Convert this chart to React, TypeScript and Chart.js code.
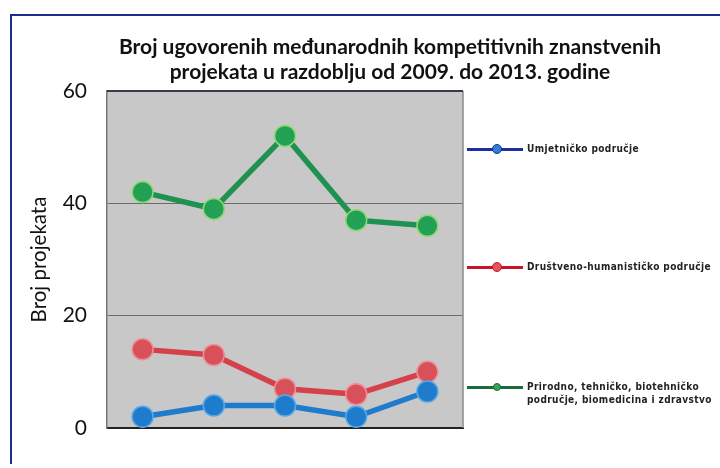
import React, { useEffect, useRef } from 'react';
import { Chart, registerables } from 'chart.js';

Chart.register(...registerables);

const years = ['2009', '2010', '2011', '2012', '2013'];
const umjetnicko = [2, 4, 4, 2, 6.5];
const drustveno = [14, 13, 7, 6, 10];
const prirodno = [42, 39, 52, 37, 36];
const yTickValues = [0, 20, 40, 60];
const titleLines = [
  'Broj ugovorenih međunarodnih kompetitivnih znanstvenih',
  'projekata u razdoblju od 2009. do 2013. godine',
];
const yAxisTitle = 'Broj projekata';
const seriesNames = [
  'Umjetničko područje',
  'Društveno-humanističko područje',
  'Prirodno, tehničko, biotehničko područje, biomedicina i zdravstvo',
];
const legendLines = [
  ['Umjetničko područje'],
  ['Društveno-humanističko područje'],
  ['Prirodno, tehničko, biotehničko', 'područje, biomedicina i zdravstvo'],
];

const plotFrame = {
  id: 'plotFrame',
  beforeDraw(chart: any) {
    const { ctx, chartArea } = chart;
    const { left, top, right, bottom } = chartArea;
    ctx.save();
    ctx.fillStyle = '#c8c8c8';
    ctx.fillRect(left, top, right - left, bottom - top);
    ctx.restore();
  },
  beforeDatasetsDraw(chart: any) {
    const { ctx, chartArea } = chart;
    const { left, top, right, bottom } = chartArea;
    ctx.save();
    ctx.strokeStyle = '#8a8a8a';
    ctx.lineWidth = 1.5;
    ctx.beginPath();
    ctx.moveTo(right, top);
    ctx.lineTo(right, bottom);
    ctx.stroke();
    ctx.strokeStyle = '#3a3a4a';
    ctx.lineWidth = 2;
    ctx.beginPath();
    ctx.moveTo(left, top);
    ctx.lineTo(right, top);
    ctx.stroke();
    ctx.restore();
  },
};

const legendStyles = [
  { line: '#1c2f9c', fill: '#2f7fd2', border: '#1c2f9c', r: 5 },
  { line: '#c8142a', fill: '#e2545c', border: '#c8142a', r: 5 },
  { line: '#1d6b3a', fill: '#36a55a', border: '#1d6b3a', r: 4 },
];
const legendY = [149, 267, 387];

export default function App() {
  const ref = useRef<HTMLCanvasElement>(null);

  useEffect(() => {
    if (!ref.current) return;
    const chart = new Chart(ref.current, {
      type: 'line',
      data: {
        labels: years,
        datasets: [
          {
            label: seriesNames[0],
            data: umjetnicko,
            borderColor: '#1f7bcc',
            backgroundColor: '#1f7bcc',
            pointBackgroundColor: '#1f7bcc',
            pointBorderColor: '#5aa8e8',
            borderWidth: 5.5,
            pointRadius: 10.5,
            pointBorderWidth: 1.5,
            tension: 0,
          },
          {
            label: seriesNames[1],
            data: drustveno,
            borderColor: '#d6404a',
            backgroundColor: '#d6404a',
            pointBackgroundColor: '#d8515a',
            pointBorderColor: '#ee8f94',
            borderWidth: 5.5,
            pointRadius: 10.5,
            pointBorderWidth: 1.5,
            tension: 0,
          },
          {
            label: seriesNames[2],
            data: prirodno,
            borderColor: '#1f9150',
            backgroundColor: '#1f9150',
            pointBackgroundColor: '#22a056',
            pointBorderColor: '#8fd870',
            borderWidth: 5.5,
            pointRadius: 10.5,
            pointBorderWidth: 1.5,
            tension: 0,
          },
        ],
      },
      options: {
        animation: false,
        responsive: false,
        devicePixelRatio: 1,
        layout: { padding: { left: 20, top: 91, right: 257, bottom: 40 } },
        plugins: {
          legend: { display: false },
          title: { display: false },
          tooltip: { enabled: false },
        },
        scales: {
          x: {
            type: 'category',
            offset: true,
            grid: { display: false, drawTicks: false },
            ticks: { display: false },
            border: { display: true, color: '#222222', width: 2 },
            afterFit: (s: any) => {
              s.height = 0;
            },
          },
          y: {
            min: 0,
            max: 60,
            afterBuildTicks: (s: any) => {
              s.ticks = yTickValues.map((v) => ({ value: v }));
            },
            ticks: {
              padding: 20,
              color: '#111111',
              font: { family: 'Lato', size: 21 },
            },
            grid: {
              drawTicks: false,
              color: (c: any) =>
                c.tick && c.tick.value === 0 ? 'rgba(0,0,0,0)' : '#6c6c6c',
              lineWidth: 1,
            },
            border: { display: true, color: '#777777', width: 1.5 },
            title: {
              display: true,
              text: yAxisTitle,
              color: '#111111',
              font: { family: 'Lato', size: 20.5 },
              padding: { top: 7, bottom: 0 },
            },
            afterFit: (s: any) => {
              s.width = 87;
            },
          },
        },
      },
      plugins: [plotFrame],
    } as any);
    return () => chart.destroy();
  }, []);

  return (
    <div
      style={{
        position: 'fixed',
        left: 0,
        top: 0,
        width: 720,
        height: 468,
        background: '#ffffff',
        overflow: 'hidden',
      }}
    >
      <div
        style={{
          position: 'absolute',
          left: 10,
          top: 14,
          width: 720,
          height: 448,
          borderLeft: '2px solid #1e2c8c',
          borderTop: '2px solid #1e2c8c',
        }}
      />
      <canvas
        ref={ref}
        width={720}
        height={468}
        style={{ position: 'absolute', left: 0, top: 0 }}
      />
      <div
        style={{
          position: 'absolute',
          left: 0,
          top: 33,
          width: 780,
          textAlign: 'center',
          fontFamily: 'Lato',
          fontWeight: 700,
          fontSize: 21,
          lineHeight: '25px',
          color: '#111',
        }}
      >
        {titleLines.map((t, i) => (
          <div key={i}>{t}</div>
        ))}
      </div>
      {legendLines.map((lines, i) => {
        const st = legendStyles[i];
        const y = legendY[i];
        return (
          <div key={i}>
            <div
              style={{
                position: 'absolute',
                left: 467,
                top: y - 1.5,
                width: 56,
                height: 3,
                background: st.line,
              }}
            />
            <div
              style={{
                position: 'absolute',
                left: 497 - st.r,
                top: y - st.r,
                width: st.r * 2 - 2,
                height: st.r * 2 - 2,
                borderRadius: '50%',
                background: st.fill,
                border: `1px solid ${st.border}`,
              }}
            />
            <div
              style={{
                position: 'absolute',
                left: 527,
                top: y - 7,
                fontFamily: 'DejaVu Sans Condensed, DejaVu Sans',
                fontStretch: 'condensed',
                fontWeight: 700,
                fontSize: 10,
                letterSpacing: 0.4,
                lineHeight: '13px',
                color: '#222',
                whiteSpace: 'nowrap',
              }}
            >
              {lines.map((l, j) => (
                <div key={j}>{l}</div>
              ))}
            </div>
          </div>
        );
      })}
    </div>
  );
}
